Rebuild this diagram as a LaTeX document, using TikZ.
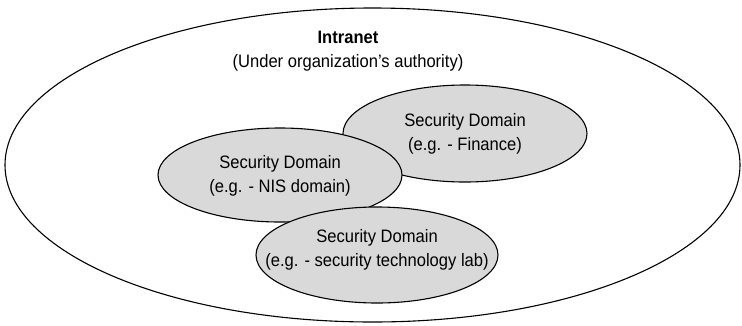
\documentclass[tikz,border=0pt]{standalone}
\usepackage{fontspec}
\setmainfont[FakeStretch=0.92]{Liberation Sans}
\usetikzlibrary{shapes.geometric}

\begin{document}
\begin{tikzpicture}[x=1pt, y=-1pt,
    secdomain/.style={ellipse, draw, line width=1.1pt, fill=black!15, inner sep=0pt},
    outer/.style={ellipse, draw, line width=1.1pt, inner sep=0pt},
    domlabel/.style={align=center, inner sep=0pt, font=\fontsize{18}{24.5}\selectfont}]
  \useasboundingbox (0,0) rectangle (742,325);
  % intranet
  \node[outer, minimum width=735pt, minimum height=314pt] (intranet) at (372.5,165) {};
  \node[domlabel] (title) at (348,51)
    {\textbf{Intranet}\\(Under organization's authority)};

  % domains
  \node[secdomain, minimum width=244pt, minimum height=97pt] (finance) at (465,133.5) {};
  \node[domlabel] (financetext) at (465,134) {Security Domain\\(e.g. - Finance)};
  \node[secdomain, minimum width=244pt, minimum height=94pt] (nis) at (280,175) {};
  \node[domlabel] (nistext) at (280,176) {Security Domain\\(e.g. - NIS domain)};
  \node[secdomain, minimum width=242pt, minimum height=96pt] (lab) at (377,255) {};
  \node[domlabel] (labtext) at (377,250) {Security Domain\\(e.g. - security technology lab)};
\end{tikzpicture}
\end{document}
